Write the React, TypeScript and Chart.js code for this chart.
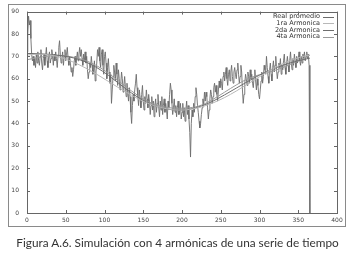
import React, { useEffect, useRef } from "react";
import { Chart, registerables } from "chart.js";

Chart.register(...registerables);

const SERIES_LABELS = ["Real promedio", "1ra Armonica", "2da Armonica", "4ta Armonica"];

const REAL_PROMEDIO = [
  72, 80, 88, 84, 86, 78, 71, 68, 70, 66,
  69, 65, 71, 67, 72, 68, 66, 70, 73, 67,
  64, 69, 71, 66, 70, 74, 68, 65, 70, 72,
  67, 69, 73, 70, 66, 71, 68, 72, 69, 65,
  70, 74, 77, 71, 67, 69, 72, 66, 70, 73,
  68, 71, 74, 69, 66, 70, 67, 63, 65, 61,
  64, 68, 70, 66, 69, 72, 68, 71, 74, 70,
  73, 69, 66, 71, 68, 72, 67, 70, 64, 60,
  63, 67, 65, 70, 66, 62, 64, 68, 59, 63,
  67, 73, 70, 74, 68, 65, 71, 73, 66, 62,
  70, 72, 67, 60, 65, 69, 63, 58, 62, 49,
  55, 61, 66, 63, 59, 67, 62, 57, 64, 60,
  55, 58, 63, 60, 54, 57, 61, 56, 52, 58,
  54, 50, 56, 52, 45, 40, 48, 53, 50, 55,
  58, 62, 56, 52, 48, 55, 51, 47, 53, 57,
  50, 46, 52, 49, 55, 51, 47, 53, 50, 44,
  48, 52, 46, 50, 43, 48, 51, 45, 49, 53,
  47, 43, 50, 46, 52, 44, 48, 51, 45, 49,
  46, 42, 50, 47, 53, 58, 55, 49, 44, 47,
  51, 45, 48, 43, 47, 50, 44, 46, 49, 42,
  45, 49, 43, 47, 41, 46, 50, 44, 48, 42,
  36, 25, 40, 46, 43, 49, 45, 52, 56, 53,
  48, 45, 41, 38, 40, 44, 47, 51, 48, 54,
  50, 54, 52, 47, 42, 46, 51, 55, 53, 49,
  52, 56, 58, 54, 57, 53, 50, 55, 59, 56,
  60, 58, 55, 61, 63, 59, 62, 65, 60, 57,
  62, 64, 59, 63, 66, 61, 58, 63, 65, 62,
  60, 64, 67, 62, 58, 61, 66, 63, 55, 49,
  53, 58, 62, 60, 57, 63, 61, 58, 64, 60,
  62, 58, 56, 61, 64, 59, 55, 60, 57, 53,
  51, 55, 59, 63, 58, 61, 66, 64, 62, 70,
  65, 61, 58, 64, 67, 62, 59, 65, 68, 63,
  66, 70, 64, 60, 63, 67, 65, 69, 62, 66,
  64, 68, 71, 65, 62, 67, 70, 66, 63, 68,
  72, 67, 64, 69, 66, 71, 68, 65, 70, 67,
  69, 72, 68, 66, 70, 67, 71, 69, 72, 68,
  70, 72, 69, 71, 66, 0,
];

const HARM_DAYS = [0, 15, 30, 45, 60, 75, 90, 105, 120, 135, 150, 165, 180, 195, 210, 225, 240, 255, 270, 285, 300, 315, 330, 345, 360, 365];
const ARMONICA_1 = [70.6, 71.0, 70.6, 69.4, 67.4, 64.9, 62.0, 58.8, 55.6, 52.6, 49.9, 47.9, 46.6, 46.0, 46.3, 47.4, 49.2, 51.6, 54.5, 57.7, 60.9, 64.0, 66.7, 68.8, 70.3, 70.6];
const ARMONICA_2 = [71.3, 71.2, 70.8, 70.3, 69.3, 67.6, 65.0, 61.5, 57.5, 53.6, 50.3, 47.9, 46.5, 46.0, 46.4, 47.8, 50.0, 52.8, 55.8, 58.8, 61.6, 64.0, 66.0, 67.6, 68.8, 69.2];
const ARMONICA_4 = [68.5, 69.5, 70.2, 70.3, 69.6, 68.2, 65.8, 62.5, 58.5, 54.5, 51.0, 48.5, 47.2, 46.8, 47.0, 48.2, 50.8, 54.0, 57.2, 60.0, 61.8, 63.2, 65.0, 67.2, 69.5, 70.5];

const X_MIN = 0, X_MAX = 400, X_STEP = 50;
const Y_MIN = 0, Y_MAX = 90, Y_STEP = 10;
const CAPTION = "Figura A.6. Simulación con 4 armónicas de una serie de tiempo";

const COLORS = ["#6c6c6c", "#b8b8b8", "#6e6e6e", "#9a9a9a"];

const framePlugin = {
  id: "gnuFrame",
  afterDraw(chart: any) {
    const { ctx, chartArea } = chart;
    const { left, right, top, bottom } = chartArea;
    const xs = chart.scales.x;
    const ys = chart.scales.y;
    ctx.save();
    ctx.strokeStyle = "#666";
    ctx.lineWidth = 1;
    ctx.strokeRect(Math.round(left) + 0.5, Math.round(top) + 0.5, Math.round(right - left), Math.round(bottom - top));
    ctx.beginPath();
    const tl = 3;
    xs.ticks.forEach((t: any) => {
      const px = Math.round(xs.getPixelForValue(t.value)) + 0.5;
      ctx.moveTo(px, bottom);
      ctx.lineTo(px, bottom - tl);
      ctx.moveTo(px, top);
      ctx.lineTo(px, top + tl);
    });
    ys.ticks.forEach((t: any) => {
      const py = Math.round(ys.getPixelForValue(t.value)) + 0.5;
      ctx.moveTo(left, py);
      ctx.lineTo(left + tl, py);
      ctx.moveTo(right, py);
      ctx.lineTo(right - tl, py);
    });
    ctx.stroke();

    // legend
    ctx.font = "6.5px 'DejaVu Sans', sans-serif";
    ctx.fillStyle = "#333";
    ctx.textAlign = "right";
    ctx.textBaseline = "middle";
    const textRight = 320;
    const rowY0 = 16.5;
    const rowH = 6.7;
    chart.data.datasets.forEach((ds: any, i: number) => {
      const y = rowY0 + i * rowH;
      ctx.fillText(ds.label, textRight, y);
      ctx.strokeStyle = ds.borderColor;
      ctx.beginPath();
      ctx.moveTo(323, Math.round(y) + 0.5);
      ctx.lineTo(334, Math.round(y) + 0.5);
      ctx.stroke();
    });
    ctx.restore();
  },
};

export default function App() {
  const ref = useRef<HTMLCanvasElement | null>(null);
  useEffect(() => {
    if (!ref.current) return;
    const real = REAL_PROMEDIO.map((v, i) => ({ x: i, y: v }));
    const h1 = HARM_DAYS.map((d, i) => ({ x: d, y: ARMONICA_1[i] }));
    const h2 = HARM_DAYS.map((d, i) => ({ x: d, y: ARMONICA_2[i] }));
    const h4 = HARM_DAYS.map((d, i) => ({ x: d, y: ARMONICA_4[i] }));
    const tickFont = { family: "'DejaVu Sans', sans-serif", size: 6 };
    const chart = new Chart(ref.current, {
      type: "line",
      data: {
        datasets: [
          { label: SERIES_LABELS[0], data: real, borderColor: COLORS[0], borderWidth: 0.9, pointRadius: 0, tension: 0, order: 4 },
          { label: SERIES_LABELS[1], data: h1, borderColor: COLORS[1], borderWidth: 1, pointRadius: 0, cubicInterpolationMode: "monotone", order: 1 },
          { label: SERIES_LABELS[2], data: h2, borderColor: COLORS[2], borderWidth: 1, pointRadius: 0, cubicInterpolationMode: "monotone", order: 2 },
          { label: SERIES_LABELS[3], data: h4, borderColor: COLORS[3], borderWidth: 1, pointRadius: 0, cubicInterpolationMode: "monotone", order: 3 },
        ],
      },
      options: {
        animation: false,
        responsive: false,
        devicePixelRatio: 1,
        layout: { padding: { left: 0, right: 18, top: 10, bottom: 32 } },
        plugins: { legend: { display: false }, tooltip: { enabled: false } },
        scales: {
          x: {
            type: "linear",
            min: X_MIN,
            max: X_MAX,
            border: { display: false },
            grid: { display: false, drawTicks: false },
            ticks: { stepSize: X_STEP, font: tickFont, color: "#444", padding: 4, maxRotation: 0 },
            afterFit: (s: any) => { s.height = 12; },
          },
          y: {
            type: "linear",
            min: Y_MIN,
            max: Y_MAX,
            border: { display: false },
            grid: { display: false, drawTicks: false },
            ticks: { stepSize: Y_STEP, font: tickFont, color: "#444", padding: 8 },
            afterFit: (s: any) => { s.width = 27; },
          },
        },
      },
      plugins: [framePlugin],
    });
    return () => chart.destroy();
  }, []);

  return (
    <div style={{ position: "absolute", left: 0, top: 0, width: 355, height: 257, background: "#fff" }}>
      <div
        style={{
          position: "absolute",
          left: 8,
          top: 4,
          width: 338,
          height: 223,
          boxSizing: "border-box",
          border: "1.5px solid #8a8a8a",
        }}
      />
      <canvas ref={ref} width={355} height={257} style={{ position: "absolute", left: 0, top: 0, width: 355, height: 257 }} />
      <div
        style={{
          position: "absolute",
          left: 0,
          top: 235,
          width: 355,
          textAlign: "center",
          fontFamily: "Lato, 'Open Sans', sans-serif",
          fontSize: 11.8,
          color: "#333",
          whiteSpace: "nowrap",
        }}
      >
        {CAPTION}
      </div>
    </div>
  );
}
